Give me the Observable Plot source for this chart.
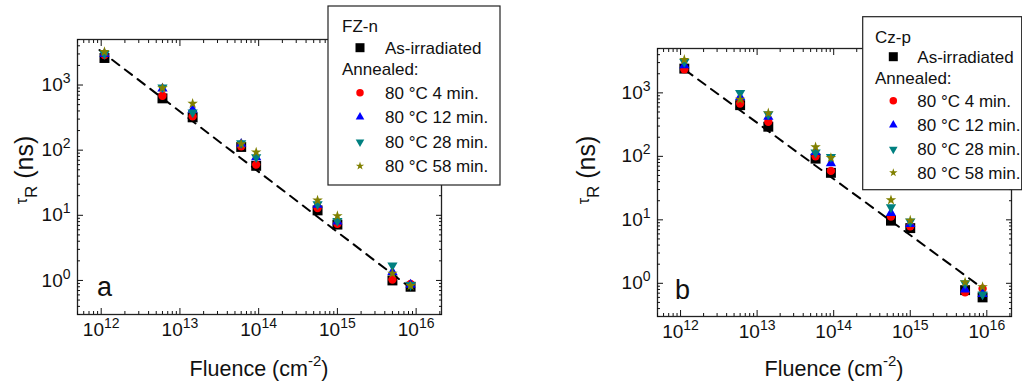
<!DOCTYPE html>
<html><head><meta charset="utf-8">
<script src="https://cdn.jsdelivr.net/npm/d3@7"></script>
<script src="https://cdn.jsdelivr.net/npm/@observablehq/plot@0.6"></script>
<style>
body{margin:0;background:#fff;}
#wrap{position:relative;width:1022px;height:385px;overflow:hidden;}
#wrap svg{position:absolute;top:0;}
</style>
</head><body><div id="wrap"></div>
<script>
// ---- data (panel a: FZ-n) ----
const fluenceA = [1.1e12, 6e12, 1.45e13, 6e13, 9.3e13, 5.6e14, 1e15, 5e15, 8.5e15];
const a_asIrr  = [2600, 624, 319, 112, 57.5, 11.9, 7.2, 1.0, 0.8];
const a_4min   = [2880, 685, 330, 115, 60, 12.9, 7.4, 1.03, 0.88];
const a_12min  = [3000, 880, 420, 125, 78, 14.5, 8.0, 1.35, 0.86];
const a_28min  = [3000, 920, 380, 128, 78, 14.8, 8.2, 1.7, 0.85];
const a_58min  = [3240, 900, 520, 125, 93, 17, 9.8, 1.28, 0.83];
const fitA_x = [9.5e11, 7.6e15];
const fitA_y = [3450, 0.85];

// ---- data (panel b: Cz-p) ----
const fluenceB = [1.12e12, 6e12, 1.4e13, 5.8e13, 9.2e13, 5.6e14, 1e15, 5.2e15, 8.8e15];
const b_asIrr  = [2410, 640, 293, 92, 55, 9.7, 7.4, 0.78, 0.6];
const b_4min   = [2350, 680, 350, 100, 59, 11.3, 7.9, 0.72, 0.82];
const b_12min  = [2730, 860, 420, 117, 78, 12.8, 8.6, 0.8, 0.68];
const b_28min  = [3070, 1000, 460, 115, 98, 15.8, 9.4, 1.0, 0.67];
const b_58min  = [3340, 790, 480, 140, 95, 20.5, 9.8, 1.04, 0.88];
const fitB_x = [1.15e12, 8.1e15];
const fitB_y = [2290, 0.9];

const seriesNames = ["As-irradiated", "80 °C 4 min.", "80 °C 12 min.", "80 °C 28 min.", "80 °C 58 min."];
const seriesColors = ["#000000", "#ff0000", "#0000ff", "#008080", "#808000"];
const majorX = [1e12, 1e13, 1e14, 1e15, 1e16];
const majorY = [1, 10, 100, 1000];
const xDomain = [5e11, 2.1e16];
const yDomain = [0.3, 5000];

function minorTicks(lo, hi, e0, e1) {
  const out = [];
  for (let e = e0; e <= e1; e++) for (let k = 2; k <= 9; k++) {
    const v = k * Math.pow(10, e);
    if (v >= lo * 0.999 && v <= hi * 1.001) out.push(v);
  }
  return out;
}
const minorX = minorTicks(xDomain[0], xDomain[1], 11, 16);
const minorY = minorTicks(yDomain[0], yDomain[1], -1, 3);

const S3 = Math.sqrt(3);
const triDown = {draw(ctx, size) {
  const y = Math.sqrt(size / (3 * S3));
  ctx.moveTo(0, 2 * y); ctx.lineTo(-S3 * y, -y); ctx.lineTo(S3 * y, -y); ctx.closePath();
}};
const plotSymbols = ["square", "circle", "triangle", triDown, "star"];
const plotRadii = [5.6, 4.2, 3.8, 3.8, 3.3];
const d3Symbols = [d3.symbolSquare, d3.symbolCircle, d3.symbolTriangle, triDown, d3.symbolStar];
const legendSizes = [81, 44, 32, 32, 22];

const FONT = "'Liberation Sans', Arial, Helvetica, sans-serif";
const fmtExp = d => "10^" + Math.round(Math.log10(d));
const blank = () => "";

function axesMarks() {
  return [
    Plot.axisX({anchor: "bottom", ticks: majorX, tickSize: -6, tickPadding: 14, tickFormat: fmtExp, label: null, fontSize: 19}),
    Plot.axisX({anchor: "bottom", ticks: minorX, tickSize: -3, tickFormat: blank, label: null}),
    Plot.axisX({anchor: "top", ticks: majorX, tickSize: -6, tickFormat: blank, label: null}),
    Plot.axisX({anchor: "top", ticks: minorX, tickSize: -3, tickFormat: blank, label: null}),
    Plot.axisY({anchor: "left", ticks: majorY, tickSize: -6, tickPadding: 13, tickFormat: fmtExp, label: null, fontSize: 19}),
    Plot.axisY({anchor: "left", ticks: minorY, tickSize: -3, tickFormat: blank, label: null}),
    Plot.axisY({anchor: "right", ticks: majorY, tickSize: -6, tickFormat: blank, label: null}),
    Plot.axisY({anchor: "right", ticks: minorY, tickSize: -3, tickFormat: blank, label: null})
  ];
}

function makePanel(cfg) {
  const marks = [];
  marks.push(Plot.line(cfg.fitX.map((x, i) => ({x, y: cfg.fitY[i]})),
    {x: "x", y: "y", stroke: "black", strokeWidth: 2, strokeDasharray: "9,7"}));
  cfg.series.forEach((vals, s) => {
    marks.push(Plot.dot(cfg.fluence.map((f, i) => ({f, v: vals[i]})),
      {x: "f", y: "v", symbol: plotSymbols[s], r: plotRadii[s], fill: seriesColors[s]}));
  });
  marks.push(Plot.frame({stroke: "#222", strokeWidth: 1.3}));
  marks.push(...axesMarks());
  const svg = Plot.plot({
    width: 511, height: 385,
    marginLeft: cfg.m[0], marginRight: cfg.m[1], marginTop: cfg.m[2], marginBottom: cfg.m[3],
    x: {type: "log", domain: xDomain},
    y: {type: "log", domain: yDomain},
    style: {fontFamily: FONT, fontSize: "19px", background: "transparent", color: "#111", overflow: "visible"},
    marks
  });
  const sel = d3.select(svg);
  // superscript exponents in tick labels
  sel.selectAll("text").each(function() {
    const t = this.textContent;
    const m = /^10\^(-?\d+)$/.exec(t);
    if (!m) return;
    const el = d3.select(this);
    el.text("10");
    el.append("tspan").attr("dy", "-8").attr("font-size", "14px").text(m[1]);
  });
  const fx0 = cfg.m[0], fx1 = 511 - cfg.m[1], fy0 = cfg.m[2], fy1 = 385 - cfg.m[3];
  // x label
  const xl = sel.append("text").attr("x", (fx0 + fx1) / 2).attr("y", 376)
    .attr("text-anchor", "middle").attr("font-size", "21.5px").attr("fill", "#111");
  xl.append("tspan").text("Fluence (cm");
  xl.append("tspan").attr("dy", "-10").attr("font-size", "15px").text("-2");
  xl.append("tspan").attr("dy", "10").text(")");
  // y label
  const yl = sel.append("text").attr("transform", `translate(${fx0 + cfg.ylabDx},170) rotate(-90)`)
    .attr("text-anchor", "middle").attr("font-size", "25px").attr("fill", "#111");
  yl.append("tspan").attr("font-size", "16px").attr("dy", "-6").text("τ");
  yl.append("tspan").attr("font-size", "17px").attr("dy", "10").text("R");
  yl.append("tspan").attr("dy", "-4").text(" (ns)");
  // panel letter
  sel.append("text").attr("x", fx0 + cfg.letterDx).attr("y", fy1 - cfg.letterDy)
    .attr("text-anchor", "start").attr("font-size", "27px").attr("fill", "#111").text(cfg.letter);
  // legend
  const L = cfg.legend;
  const g = sel.append("g").attr("font-size", "17px").attr("fill", "#111").attr("text-anchor", "start");
  g.append("rect").attr("x", L.x).attr("y", L.y).attr("width", L.w).attr("height", L.h)
    .attr("fill", "white").attr("stroke", "#222").attr("stroke-width", 1.2);
  g.append("text").attr("text-anchor", "start").attr("x", L.tx0).attr("y", L.rows[0] + 6).text(cfg.title);
  g.append("text").attr("text-anchor", "start").attr("x", L.tx0).attr("y", L.rows[2] + 6).text("Annealed:");
  const rowIdx = [1, 3, 4, 5, 6];
  seriesNames.forEach((name, s) => {
    const ry = L.rows[rowIdx[s]];
    g.append("path").attr("transform", `translate(${L.sx},${ry})`)
      .attr("d", d3.symbol(d3Symbols[s], legendSizes[s])()).attr("fill", seriesColors[s]);
    g.append("text").attr("text-anchor", "start").attr("x", L.tx1).attr("y", ry + 6).text(name);
  });
  return svg;
}

const wrap = document.getElementById("wrap");
const svgA = makePanel({
  fluence: fluenceA, series: [a_asIrr, a_4min, a_12min, a_28min, a_58min],
  fitX: fitA_x, fitY: fitA_y, m: [77, 70, 39, 71],
  ylabDx: -44, letter: "a", letterDx: 20, letterDy: 18, title: "FZ-n",
  legend: {x: 328, y: 6, w: 172, h: 179, tx0: 342, sx: 360, tx1: 385, rows: [26, 47.7, 69, 92.7, 117, 142, 166]}
});
svgA.style.left = "0px";
wrap.appendChild(svgA);
const svgB = makePanel({
  fluence: fluenceB, series: [b_asIrr, b_4min, b_12min, b_28min, b_58min],
  fitX: fitB_x, fitY: fitB_y, m: [146, 11, 48, 69],
  ylabDx: -62, letter: "b", letterDx: 18, letterDy: 17, title: "Cz-p",
  legend: {x: 351.7, y: 16.7, w: 159, h: 173, tx0: 364, sx: 382.3, tx1: 406.3, rows: [36.7, 56.7, 78.3, 100.7, 125, 149.3, 172.7]}
});
svgB.style.left = "511px";
wrap.appendChild(svgB);
</script></body></html>
